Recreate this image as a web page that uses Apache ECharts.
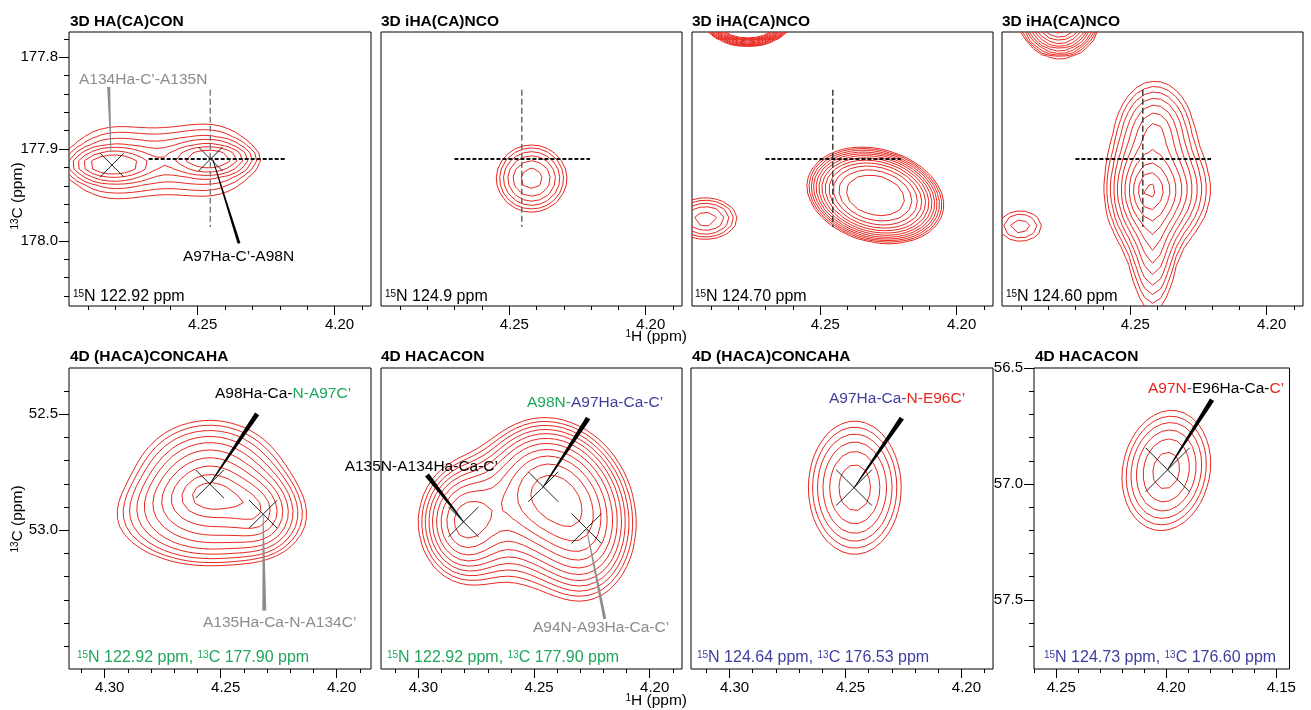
<!DOCTYPE html>
<html><head><meta charset="utf-8">
<script src="https://cdn.jsdelivr.net/npm/echarts@6/dist/echarts.min.js"></script>
<style>html,body{margin:0;padding:0;background:#fff}#c{width:1311px;height:710px}</style>
</head><body><div id="c"></div>
<script>
// ================= DATA =================
const titles = ['3D HA(CA)CON','3D iHA(CA)NCO','3D iHA(CA)NCO','3D iHA(CA)NCO',
                '4D (HACA)CONCAHA','4D HACACON','4D (HACA)CONCAHA','4D HACACON'];
// axis ranges (ppm); 1H axes run right-to-left, 13C axes top-to-bottom
const xMin = [4.1867, 4.1867, 4.1867, 4.1867, 4.1852, 4.1860, 4.1864, 4.1440];
const xMax = [4.2970, 4.2970, 4.2970, 4.2970, 4.3154, 4.3162, 4.3166, 4.2601];
const yMin = [177.7725, 177.7725, 177.7725, 177.7725, 52.3012, 52.3012, 56.5, 56.5];
const yMax = [178.071, 178.071, 178.071, 178.071, 53.598, 53.598, 57.798, 57.798];
const xTickLabels = [[4.25,4.20],[4.25,4.20],[4.25,4.20],[4.25,4.20],
                     [4.30,4.25,4.20],[4.30,4.25,4.20],[4.30,4.25,4.20],[4.25,4.20,4.15]];
const yTickLabels = [[177.8,177.9,178.0],[],[],[],[52.5,53.0],[],[],[56.5,57.0,57.5]];
const nitrogenLabels = ['122.92','124.9','124.70','124.60'];
const planeLabels = [['122.92','177.90'],['122.92','177.90'],['124.64','176.53'],['124.73','176.60']];

// peak components: [1H ppm, 13C ppm, height, width 1H, width 13C, correlation, shape exponent]
const peaks1 = [[4.2813,177.9170,0.60,0.0085,0.0095,0,2],[4.2813,177.9150,0.30,0.0120,0.0300,0,2],
                [4.2455,177.9110,0.56,0.0082,0.0092,0,2],[4.2455,177.9120,0.30,0.0120,0.0300,0,2],
                [4.2634,177.9130,0.09,0.0090,0.0300,0,2]];
const peaks2 = [[4.2418,177.9321,1.0,0.0090,0.0255,0,2]];
const peaks3 = [[4.2298,177.9506,1.0,0.0165,0.0345,0.2,2.8],[4.2766,177.7600,3.0,0.0070,0.0116,0,2],[4.2921,177.9758,0.37,0.0105,0.0205,0,2]];
const peaks4 = [[4.2433,177.9450,1.0,0.0035,0.0160,0,1.3],[4.2370,177.9450,0.25,0.0065,0.0220,0,1.6],
                [4.2417,178.0000,0.22,0.0035,0.0330,0,1.6],[4.2410,177.8800,0.25,0.0055,0.0220,0,1.6],
                [4.2903,177.9840,0.08,0.0058,0.0123,0,2],[4.2760,177.7550,2.0,0.0052,0.0160,0,2]];
const peaks5 = [[4.2547,52.800,0.75,0.0190,0.160,0,2],[4.2317,52.931,0.28,0.0085,0.100,0,2],[4.2547,52.960,0.32,0.0320,0.150,0,3]];
const peaks6 = [[4.2458,52.810,0.72,0.0150,0.170,0,2],[4.2273,52.993,0.50,0.0125,0.190,0,2],[4.2805,52.964,0.55,0.0105,0.140,0,2],[4.2560,52.970,0.30,0.0330,0.250,0,2]];
const peaks7 = [[4.2460,57.016,1.0,0.0132,0.190,0,2]];
const peaks8 = [[4.2000,56.942,1.0,0.0135,0.174,-0.12,2]];
// contour levels (fraction of the first component's apex intensity)
const levels1 = [0.15,0.193,0.248,0.319,0.41,0.528,0.68];
const levels2 = [0.36,0.43,0.52,0.625,0.75,0.905];
const levels3 = [0.202,0.230,0.263,0.300,0.342,0.390,0.445,0.508,0.580,0.661,0.755,0.861];
const levels4 = [0.0266,0.0375,0.053,0.075,0.106,0.149,0.21,0.297,0.42,0.59,0.83];
const levels5 = [0.19,0.235,0.29,0.36,0.44,0.54,0.65,0.77,0.89,0.985];
const levels6 = [0.21,0.245,0.285,0.33,0.38,0.44,0.51,0.595,0.69,0.80,0.93];
const levels7 = [0.320,0.391,0.478,0.584,0.713,0.871];
const levels8 = [0.331,0.405,0.494,0.604,0.737,0.900];
// assigned peak positions (crosses)
const crosses1 = [[4.2813,177.9175],[4.2453,177.9109]];
const crosses5 = [[4.2547,52.801],[4.2317,52.931]];
const crosses6 = [[4.2805,52.964],[4.2460,52.813],[4.2273,52.993]];
const crosses7 = [[4.2463,57.016]];
const crosses8 = [[4.1994,56.939]];
// reference cross-hair (1H, 13C) of the 3D planes
const crossHairH = [4.2454, 177.9109];

// ================= BUILD =================
const FONT = "'Liberation Sans', Arial, Helvetica, sans-serif";
const RED = '#e8261e';
const COLORS = {k:'#000000', g:'#1fa65a', b:'#3e3e9e', r:'#e8261e', gr:'#8c8c8c'};
const gridRects = [[69,32,302,274],[381,32,301,274],[692,32,301,274],[1002,32,301,274],
                   [69,368,302,301],[381,368,301,301],[691,368,302,301],[1034,368,269,301]];
const allPeaks = [peaks1,peaks2,peaks3,peaks4,peaks5,peaks6,peaks7,peaks8];
const allLevels = [levels1,levels2,levels3,levels4,levels5,levels6,levels7,levels8];

function ticksFor(min, max, step) {
  const out = [];
  for (let k = Math.ceil(min/step - 1e-6); k*step <= max + 1e-9; k++) out.push(Math.round(k*step*1e4)/1e4);
  return out;
}
function fieldAt(peaks, x, y) {
  let s = 0;
  for (const [x0,y0,A,sx,sy,rho,p] of peaks) {
    const u = (x0 - x)/sx, v = (y - y0)/sy;
    const Q = Math.max(0,(u*u - 2*rho*u*v + v*v)/(1 - rho*rho));
    s += A*Math.exp(-0.5*Math.pow(Q, p/2));
  }
  return s;
}
const TABLE = {1:[[3,0]],2:[[0,1]],3:[[3,1]],4:[[1,2]],6:[[0,2]],7:[[3,2]],8:[[2,3]],9:[[0,2]],11:[[1,2]],12:[[1,3]],13:[[0,1]],14:[[3,0]]};
function contourLines(peaks, levels, x0, x1, y0, y1, nx, ny) {
  const ref = fieldAt(peaks, peaks[0][0], peaks[0][1]);
  const F = [];
  for (let j=0;j<=ny;j++){ const row=[]; for(let i=0;i<=nx;i++) row.push(fieldAt(peaks, x0+(x1-x0)*i/nx, y0+(y1-y0)*j/ny)); F.push(row); }
  const result = [];
  for (const frac of levels) {
    const L = frac*ref;
    const pts = {}, adj = {}, segs = [];
    const corner = (i,j,c) => c===0?[i,j]:c===1?[i+1,j]:c===2?[i+1,j+1]:[i,j+1];
    const EC = [[0,1],[1,2],[2,3],[3,0]];
    const key = (i,j,e) => e===0?`h${i}_${j}`:e===1?`v${i+1}_${j}`:e===2?`h${i}_${j+1}`:`v${i}_${j}`;
    for (let j=0;j<ny;j++) for (let i=0;i<nx;i++) {
      const f = [F[j][i],F[j][i+1],F[j+1][i+1],F[j+1][i]];
      const idx = (f[0]>L?1:0)|(f[1]>L?2:0)|(f[2]>L?4:0)|(f[3]>L?8:0);
      let list = TABLE[idx];
      if (idx===5 || idx===10) {
        const center = (f[0]+f[1]+f[2]+f[3])/4 > L;
        if (idx===5) list = center ? [[0,1],[2,3]] : [[3,0],[1,2]];
        else list = center ? [[3,0],[1,2]] : [[0,1],[2,3]];
      }
      if (!list) continue;
      for (const [ea,eb] of list) {
        const ks = [ea,eb].map(e => {
          const k = key(i,j,e);
          if (!pts[k]) {
            const [ca,cb] = EC[e];
            const pa = corner(i,j,ca), pb = corner(i,j,cb);
            const t = (L - f[ca])/(f[cb] - f[ca]);
            const gi = pa[0] + t*(pb[0]-pa[0]), gj = pa[1] + t*(pb[1]-pa[1]);
            pts[k] = [x0 + (x1-x0)*gi/nx, y0 + (y1-y0)*gj/ny];
          }
          return k;
        });
        const s = segs.length; segs.push(ks);
        (adj[ks[0]] = adj[ks[0]] || []).push(s);
        (adj[ks[1]] = adj[ks[1]] || []).push(s);
      }
    }
    const used = new Set();
    const walk = (start) => {
      const poly = [pts[start]]; let k = start;
      while (true) {
        const cand = (adj[k]||[]).find(s => !used.has(s));
        if (cand === undefined) break;
        used.add(cand);
        const [a,b] = segs[cand]; const nk = a===k ? b : a;
        poly.push(pts[nk]); k = nk;
      }
      return poly;
    };
    for (const k in adj) if (adj[k].length===1 && !used.has(adj[k][0])) result.push(walk(k));
    for (let s=0;s<segs.length;s++) if (!used.has(s)) result.push(walk(segs[s][0]));
  }
  return result;
}

const grid = gridRects.map(r => ({left:r[0], top:r[1], width:r[2], height:r[3], show:true, borderColor:'#000', borderWidth:1, backgroundColor:'rgba(0,0,0,0)'}));
const xAxis = [], yAxis = [];
const yHasAxis = [true,false,false,false,true,false,false,true];
for (let p=0;p<8;p++) {
  xAxis.push({gridIndex:p, type:'value', min:xMin[p], max:xMax[p], inverse:true, position:'bottom',
    axisLine:{show:false}, splitLine:{show:false},
    axisTick:{show:true, length:4, lineStyle:{color:'#000', width:1}, customValues: ticksFor(xMin[p], xMax[p], 0.01)},
    axisLabel:{show:false}});
  yAxis.push({gridIndex:p, type:'value', min:yMin[p], max:yMax[p], inverse:true, position:'left',
    axisLine:{show:false}, splitLine:{show:false},
    axisTick:{show:yHasAxis[p], length:5, lineStyle:{color:'#000', width:1}, customValues: ticksFor(yMin[p], yMax[p], p<4?0.02:0.1)},
    axisLabel:{show:false}});
}
for (let p=0;p<8;p++) {
  xAxis.push({gridIndex:p, type:'value', min:xMin[p], max:xMax[p], inverse:true, position:'bottom',
    axisLine:{show:false}, splitLine:{show:false},
    axisTick:{show:true, length:9, lineStyle:{color:'#000', width:1}, customValues: xTickLabels[p]},
    axisLabel:{show:true, customValues: xTickLabels[p], formatter: v => Number(v).toFixed(2), fontSize:15, fontFamily:FONT, color:'#000', margin:11, padding:[0,0,0,10]}});
  yAxis.push({gridIndex:p, type:'value', min:yMin[p], max:yMax[p], inverse:true, position:'left',
    axisLine:{show:false}, splitLine:{show:false},
    axisTick:{show:yHasAxis[p], length:10, lineStyle:{color:'#000', width:1}, customValues: yTickLabels[p]},
    axisLabel:{show:yHasAxis[p], customValues: yTickLabels[p], formatter: v => Number(v).toFixed(1), fontSize:15, fontFamily:FONT, color:'#000', margin:11}});
}

const series = [];
for (let p=0;p<8;p++) {
  const r = gridRects[p];
  const nx = Math.round(r[2]/8), ny = Math.round(r[3]/8);
  const polys = contourLines(allPeaks[p], allLevels[p], xMin[p], xMax[p], yMin[p], yMax[p], nx, ny);
  series.push({type:'custom', xAxisIndex:p, yAxisIndex:p, clip:true, silent:true, animation:false, z:2,
    data: polys.map(pl => [pl[0][0], pl[0][1]]),
    renderItem: (params, api) => ({type:'polyline', shape:{points: polys[params.dataIndex].map(pt => api.coord(pt))},
      style:{stroke:RED, fill:'none', lineWidth:1}})});
}
// cross-hairs on the 3D planes
const hairH = [[4.2679,4.2179],[4.2701,4.2204],[4.2701,4.2204],[4.2701,4.2204]];
const hairV = [177.8355, 177.985];
const hairVColor = ['#707070','#555555','#222222','#222222'];
for (let p=0;p<4;p++) {
  series.push({type:'line', xAxisIndex:p, yAxisIndex:p, data:[[hairH[p][0],crossHairH[1]],[hairH[p][1],crossHairH[1]]],
    symbol:'none', silent:true, animation:false, z:6, lineStyle:{color:'#111', width:2, type:[4,2]}});
  series.push({type:'line', xAxisIndex:p, yAxisIndex:p, data:[[crossHairH[0],hairV[0]],[crossHairH[0],hairV[1]]],
    symbol:'none', silent:true, animation:false, z:5, lineStyle:{color:hairVColor[p], width:1.3, type:[6,3]}});
}
// crosses
const crossSets = [[0,crosses1,12],[4,crosses5,14],[5,crosses6,15],[6,crosses7,18],[7,crosses8,22]];
for (const [p,pts,arm] of crossSets) {
  series.push({type:'custom', xAxisIndex:p, yAxisIndex:p, silent:true, animation:false, z:8, data:pts,
    renderItem:(params, api) => {
      const c = api.coord([api.value(0), api.value(1)]);
      return {type:'group', children:[
        {type:'line', shape:{x1:c[0]-arm,y1:c[1]-arm,x2:c[0]+arm,y2:c[1]+arm}, style:{stroke:'#222', lineWidth:1}},
        {type:'line', shape:{x1:c[0]-arm,y1:c[1]+arm,x2:c[0]+arm,y2:c[1]-arm}, style:{stroke:'#222', lineWidth:1}}]};
    }});
}
// tapered leader lines: panel, from (peak), to (label), thick-end width, colour
const leaders = [
  [0,[4.2817,177.9033],[4.2825,177.8323],3,'#8c8c8c'],
  [0,[4.2444,177.9121],[4.2349,178.0028],3,'#000'],
  [4,[4.2547,52.801],[4.2343,52.4986],5,'#000'],
  [4,[4.2317,52.931],[4.2312,53.346],4,'#8c8c8c'],
  [5,[4.2460,52.813],[4.2266,52.517],5,'#000'],
  [5,[4.2805,52.964],[4.2963,52.762],5,'#000'],
  [5,[4.2273,52.993],[4.2194,53.382],3,'#8c8c8c'],
  [6,[4.2463,57.016],[4.2257,56.716],5,'#000'],
  [7,[4.1994,56.939],[4.1792,56.637],5,'#000']
];
for (const [p,a,b,w,col] of leaders) {
  series.push({type:'custom', xAxisIndex:p, yAxisIndex:p, silent:true, animation:false, z:9, clip:false,
    data:[[a[0],a[1],b[0],b[1]]],
    renderItem:(params, api) => {
      const p0 = api.coord([api.value(0), api.value(1)]), p1 = api.coord([api.value(2), api.value(3)]);
      const dx = p1[0]-p0[0], dy = p1[1]-p0[1], len = Math.hypot(dx,dy) || 1;
      const nx = -dy/len, ny = dx/len, w0 = 0.4, w1 = w/2;
      return {type:'polygon', shape:{points:[[p0[0]+nx*w0,p0[1]+ny*w0],[p1[0]+nx*w1,p1[1]+ny*w1],[p1[0]-nx*w1,p1[1]-ny*w1],[p0[0]-nx*w0,p0[1]-ny*w0]]},
        style:{fill:col, stroke:null}};
    }});
}

// ---------- texts ----------
const graphic = [];
function rich(parts, fs) {
  const r = {}; let text = '';
  for (const [str,c,sup] of parts) {
    const k = (sup?'s':'n') + c;
    if (!r[k]) r[k] = sup ? {fill:COLORS[c], color:COLORS[c], fontSize:Math.round(fs*0.62), fontFamily:FONT, verticalAlign:'top'}
                          : {fill:COLORS[c], color:COLORS[c], fontSize:fs, fontFamily:FONT};
    text += `{${k}|${str}}`;
  }
  return {text, rich:r};
}
function addText(x, y, parts, fs, align, rot) {
  const rt = rich(parts, fs);
  graphic.push({type:'text', x, y, rotation: rot||0, silent:true, z:100,
    style:{text:rt.text, rich:rt.rich, font:`${fs}px ${FONT}`, fontSize:fs, fontFamily:FONT,
      textAlign:align||'left', align:align||'left', textVerticalAlign:'middle', verticalAlign:'middle', fill:'#000'}});
}
function addTitle(x, y, str) {
  graphic.push({type:'text', x, y, silent:true, z:100,
    style:{text:str, fontSize:15.5, fontWeight:'bold', fontFamily:FONT, fill:'#000', textAlign:'left', align:'left', textVerticalAlign:'middle', verticalAlign:'middle'}});
}
const titlePos = [[70,22],[381,22],[692,22],[1002,22],[70,357],[381,357],[692,357],[1035,357]];
titles.forEach((t,i) => addTitle(titlePos[i][0], titlePos[i][1], t));
const nPos = [[73,297],[385,297],[695,297],[1006,297]];
nitrogenLabels.forEach((n,i) => addText(nPos[i][0], nPos[i][1], [['15','k',1],['N '+n+' ppm','k']], 16));
const planePos = [[77,658],[387,658],[697,658],[1044,658]];
const planeCol = ['g','g','b','b'];
planeLabels.forEach((n,i) => addText(planePos[i][0], planePos[i][1],
  [['15',planeCol[i],1],['N '+n[0]+' ppm, ',planeCol[i]],['13',planeCol[i],1],['C '+n[1]+' ppm',planeCol[i]]], 16));
// peak annotations
addText(79, 80, [['A134Ha-C’-A135N','gr']], 15.5);
addText(183, 257, [['A97Ha-C’-A98N','k']], 15.5);
addText(215, 394, [['A98Ha-Ca-','k'],['N-A97C’','g']], 15.5);
addText(203, 623, [['A135Ha-Ca-N-A134C’','gr']], 15.5);
addText(527, 403, [['A98N-','g'],['A97Ha-Ca-C’','b']], 15.5);
addText(498, 467, [['A135N-A134Ha-Ca-C’','k']], 15.5, 'right');
addText(533, 628, [['A94N-A93Ha-Ca-C’','gr']], 15.5);
addText(829, 399, [['A97Ha-Ca-','b'],['N-E96C’','r']], 15.5);
addText(1148, 389, [['A97N','r'],['-','b'],['E96Ha-Ca-','k'],['C’','r']], 15.5);
// axis titles
addText(687, 337, [['1','k',1],['H (ppm)','k']], 15.5, 'right');
addText(687, 701, [['1','k',1],['H (ppm)','k']], 15.5, 'right');
addText(18, 196, [['13','k',1],['C (ppm)','k']], 15.5, 'center', Math.PI/2);
addText(18, 519, [['13','k',1],['C (ppm)','k']], 15.5, 'center', Math.PI/2);

const chart = echarts.init(document.getElementById('c'), null, {renderer:'canvas'});
chart.setOption({animation:false, backgroundColor:'#ffffff', grid, xAxis, yAxis, series, graphic});
</script></body></html>
